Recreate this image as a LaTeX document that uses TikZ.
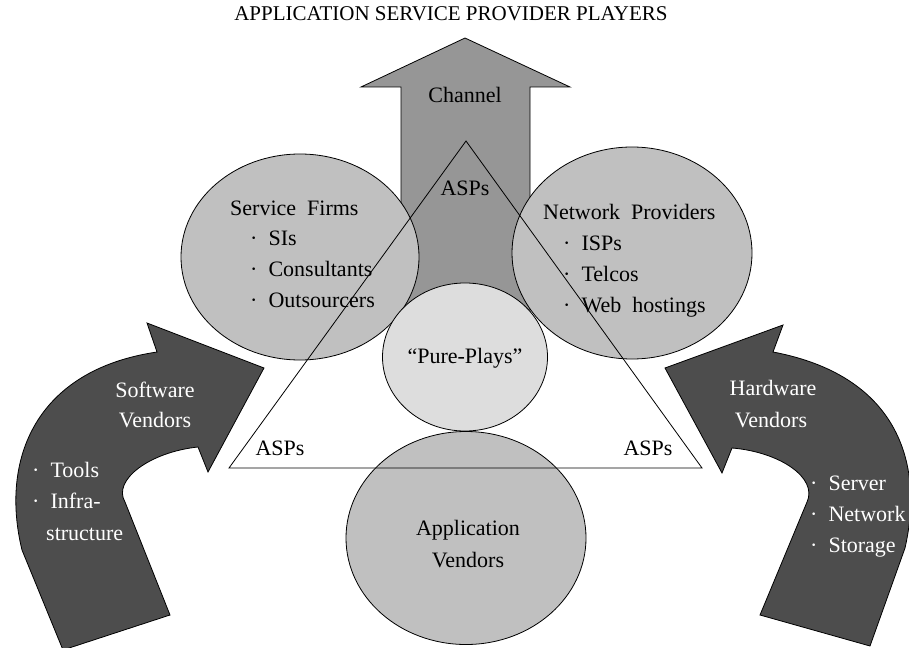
\documentclass[tikz,border=0pt]{standalone}
\usepackage{fontspec}
\setmainfont{Liberation Serif}
\usepackage{tikz}
\usetikzlibrary{shapes.geometric}
\definecolor{aspDark}{HTML}{4D4D4D}
\definecolor{aspMid}{HTML}{969696}
\definecolor{aspLight}{HTML}{C0C0C0}
\definecolor{aspPale}{HTML}{DDDDDD}
\newcommand{\bul}{\textperiodcentered\hspace{0.5em}}
\tikzset{
  player/.style={
    ellipse, draw=black, line width=0.8pt,
    fill=#1, inner sep=0pt
  },
  bigarrow/.style={
    draw=black, line width=0.8pt, fill=#1, line join=miter
  },
  txt/.style={
    font=\fontsize{22}{26}\selectfont, inner sep=0pt, anchor=base
  },
  item/.style={txt, anchor=base west},
  whitetxt/.style={txt, text=white},
  whiteitem/.style={item, text=white}
}

\begin{document}
\begin{tikzpicture}[x=1pt, y=-1pt]
      \useasboundingbox (0,0) rectangle (909,647);
      % channel arrow going up
      \draw[bigarrow=aspMid] (401,330) -- (401,87) -- (361,87) -- (465,38) -- (570,87) -- (530,87) -- (530,330) -- cycle;
      % vendors pushing in from both sides
      \draw[bigarrow=aspDark] (63,650) -- (22,550) .. controls (0,460) and (35,370) .. (157,352)
        -- (147,323) -- (264,368) -- (208,472) -- (198,447)
        .. controls (150,452) and (112,480) .. (125,502) -- (170,615) -- cycle;
      \draw[bigarrow=aspDark] (870,646) -- (905,548) .. controls (925,460) and (895,375) .. (773,352)
        -- (783,325) -- (665,368) -- (722,473) -- (732,448)
        .. controls (780,452) and (818,478) .. (807,502) -- (760,615) -- cycle;
      % players
      \node[player=aspLight, minimum width=238pt, minimum height=206pt] (service) at (300,257) {};
      \node[player=aspLight, minimum width=240pt, minimum height=212pt] (network) at (632,253) {};
      \node[player=aspPale, minimum width=165pt, minimum height=148pt] (pure) at (465,357) {};
      \node[player=aspLight, minimum width=240pt, minimum height=213pt] (appvend) at (466,538) {};
      % ASP triangle
      \coordinate (apex) at (466,141);
      \coordinate (baseL) at (229,468);
      \coordinate (baseR) at (702,468);
      \draw[line width=0.8pt] (apex) -- (baseL) -- (baseR) -- cycle;
      % labels
      \node[txt, font=\fontsize{21}{25}\selectfont] (title) at (451,21) {APPLICATION SERVICE PROVIDER PLAYERS};
      \node[txt] (chan) at (465,103) {Channel};
      \node[txt] (aspT) at (465,195) {ASPs};
      \node[txt] (aspL) at (280,455) {ASPs};
      \node[txt] (aspR) at (648,455) {ASPs};
      \node[item] (svcHead) at (230,215) {Service~~Firms};
      \node[item] (svcA) at (250,245) {\bul SIs};
      \node[item] (svcB) at (250,276) {\bul Consultants};
      \node[item] (svcC) at (250,307) {\bul Outsourcers};
      \node[item] (netHead) at (543,219) {Network~~Providers};
      \node[item] (netA) at (563,250) {\bul ISPs};
      \node[item] (netB) at (563,281) {\bul Telcos};
      \node[item] (netC) at (563,312) {\bul Web~~hostings};
      \node[txt] (pureTxt) at (465,363) {“Pure-Plays”};
      \node[txt] (appA) at (468,535) {Application};
      \node[txt] (appB) at (468,567) {Vendors};
      \node[whitetxt] (swA) at (155,397) {Software};
      \node[whitetxt] (swB) at (155,427) {Vendors};
      \node[whiteitem] (swC) at (32,477) {\bul Tools};
      \node[whiteitem] (swD) at (32,508) {\bul Infra-};
      \node[whiteitem] (swE) at (46,540) {structure};
      \node[whitetxt] (hwA) at (773,395) {Hardware};
      \node[whitetxt] (hwB) at (771,427) {Vendors};
      \node[whiteitem] (hwC) at (810,490) {\bul Server};
      \node[whiteitem] (hwD) at (810,521) {\bul Network};
      \node[whiteitem] (hwE) at (810,552) {\bul Storage};
    \end{tikzpicture}
\end{document}
